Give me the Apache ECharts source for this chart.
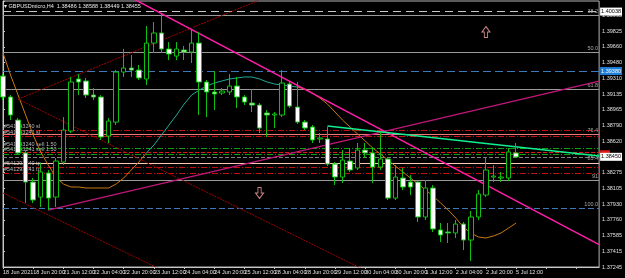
<!DOCTYPE html>
<html><head><meta charset="utf-8">
<script src="https://cdn.jsdelivr.net/npm/echarts@6/dist/echarts.min.js"></script>
<style>html,body{margin:0;padding:0;background:#000;}#c{width:625px;height:278px;}</style>
</head><body><div id="c"></div>
<script>
// ---- data ----
const xLabels = ["18 Jun 2021","18 Jun 20:00","21 Jun 12:00","22 Jun 04:00","22 Jun 20:00","23 Jun 12:00","24 Jun 04:00","24 Jun 20:00","25 Jun 12:00","28 Jun 04:00","28 Jun 20:00","29 Jun 12:00","30 Jun 04:00","30 Jun 20:00","1 Jul 12:00","2 Jul 04:00","2 Jul 20:00","5 Jul 12:00"];
const yTickLabels = ["1.37245","1.37415","1.37585","1.37760","1.37930","1.38105","1.38275","1.38445","1.38620","1.38790","1.38965","1.39135","1.39310","1.39480","1.39660","1.39825","1.39995"];
const yMin = 1.37245, yStep = 0.00172, yMax = 1.40154;
const openP = [1.39333,1.39104,1.38852,1.38492,1.38174,1.38010,1.38273,1.38010,1.38393,1.38732,1.39301,1.39279,1.39126,1.39104,1.38677,1.38830,1.39377,1.39421,1.39399,1.39301,1.39694,1.39804,1.39629,1.39552,1.39618,1.39596,1.39694,1.39268,1.39159,1.39148,1.39159,1.39224,1.39104,1.39038,1.39016,1.38929,1.38907,1.38907,1.39246,1.38994,1.38830,1.38776,1.38645,1.38645,1.38371,1.38229,1.38404,1.38328,1.38524,1.38492,1.38338,1.38426,1.37999,1.38218,1.38174,1.38174,1.37792,1.38109,1.37650,1.37628,1.37617,1.37715,1.37540,1.37792,1.38032,1.38229,1.38218,1.38218,1.38492];
const closeP = [1.39104,1.38907,1.38492,1.38174,1.37978,1.38284,1.37999,1.38404,1.38743,1.39268,1.39268,1.39126,1.39104,1.38667,1.38841,1.39377,1.39421,1.39399,1.39312,1.39694,1.39804,1.39629,1.39574,1.39629,1.39596,1.39694,1.39268,1.39159,1.39137,1.39169,1.39224,1.39104,1.39049,1.39016,1.38765,1.38907,1.38918,1.39257,1.39005,1.38830,1.38765,1.38634,1.38656,1.38371,1.38229,1.38415,1.38306,1.38524,1.38492,1.38338,1.38426,1.37999,1.38229,1.38120,1.38120,1.37792,1.38109,1.37661,1.37595,1.37617,1.37715,1.37540,1.37792,1.38043,1.38306,1.38240,1.38229,1.38503,1.38448];
const lowP = [1.39071,1.38852,1.38470,1.37945,1.37945,1.37901,1.37868,1.37901,1.38360,1.38710,1.39126,1.39093,1.39071,1.38634,1.38601,1.38798,1.39323,1.39323,1.39290,1.39235,1.39585,1.39585,1.39508,1.39508,1.39508,1.39476,1.38907,1.38885,1.38962,1.39126,1.39126,1.38984,1.39016,1.38940,1.38710,1.38667,1.38765,1.38885,1.38984,1.38809,1.38743,1.38601,1.38601,1.38349,1.38142,1.38164,1.38284,1.38306,1.38437,1.38164,1.38306,1.37978,1.37978,1.38087,1.38032,1.37737,1.37759,1.37628,1.37518,1.37507,1.37562,1.37431,1.37311,1.37759,1.38010,1.38174,1.38174,1.38185,1.38437];
const highP = [1.39355,1.39126,1.38874,1.38524,1.38218,1.38382,1.38306,1.38437,1.38885,1.39323,1.39355,1.39312,1.39202,1.39126,1.38874,1.39399,1.39629,1.39563,1.39454,1.39880,1.39924,1.40022,1.39705,1.39705,1.39661,1.39847,1.39815,1.39290,1.39388,1.39202,1.39355,1.39323,1.39126,1.39191,1.39038,1.38962,1.38940,1.39399,1.39268,1.39268,1.38852,1.38798,1.38710,1.38776,1.38393,1.38524,1.38546,1.38601,1.38601,1.38557,1.38721,1.38448,1.38360,1.38328,1.38251,1.38196,1.38196,1.38142,1.37726,1.37726,1.37759,1.37737,1.37857,1.38087,1.38437,1.38360,1.38284,1.38546,1.38601];
const maValues = [1.39585,1.39344,1.39126,1.38907,1.38688,1.38502,1.38360,1.38229,1.38153,1.38120,1.38120,1.38109,1.38109,1.38109,1.38109,1.38153,1.38218,1.38306,1.38393,1.38492,1.38579,1.38688,1.38798,1.38907,1.39027,1.39126,1.39180,1.39224,1.39257,1.39279,1.39301,1.39312,1.39323,1.39323,1.39301,1.39268,1.39246,1.39235,1.39224,1.39213,1.39191,1.39148,1.39093,1.39027,1.38940,1.38852,1.38776,1.38699,1.38623,1.38546,1.38481,1.38415,1.38349,1.38284,1.38218,1.38153,1.38087,1.38021,1.37945,1.37868,1.37781,1.37682,1.37617,1.37573,1.37562,1.37584,1.37617,1.37671,1.37726];
const maRiseStart = 19, maRiseEnd = 39;
const fibLevels = [38.2, 50.0, 61.8, 76.4, 85.4, 91, 100.0];
const fibLabels = ["38.2","50.0","61.8","76.4","85.4","91","100.0"];
const fibZero = 1.41309, fibHundred = 1.37883;
const slPrices = [1.38743, 1.38677];
const entryPrices = [1.38546, 1.38481];
const tpPrices = [1.38338, 1.38273];
const slLabels = ["#541293240 sl", "#541293241 sl"];
const entryLabels = ["#541293240 sell 1.50", "#541293241 sell 1.50"];
const tpLabels = ["#541293240 tp", "#541293241 tp"];
const topDashPrice = 1.40038, topDashLabel = "1.40038";
const blueLinePrice = 1.39388, blueLineLabel = "1.39380";
const bidPrice = 1.38450, bidLabel = "1.38450";
const askPrice = 1.38500;
const peachBoxLabel = "1.38360";
const fibBoxLabel = "1.37883";
const pinkTrend = [[17, 1.40190], [79, 1.37490]];
const violetRay = [[6, 1.37868], [79, 1.39279]];
const redUp = [[2, 1.39080], [34, 1.40164]];
const redDown1 = [[2, 1.39080], [50, 1.37127]];
const redDown2 = [[0, 1.38054], [22, 1.37174]];
const greenTrend = [[43, 1.38787], [79, 1.38459]];
const upArrows = [[64, 1.39815]];
const downArrows = [[34, 1.38054]];
const titleText = "\u25BE GBPUSDmicro,H4  1.38486 1.38588 1.38449 1.38455";

// ---- build ----
const N = 80;
const cats = [];
for (let i = 0; i < N; i++) cats.push((i % 4 === 0 && xLabels[i / 4]) ? xLabels[i / 4] : ' ' + i);
const ohlc = openP.map((o, i) => [o, closeP[i], lowP[i], highP[i]]);
const maFall = maValues.map((v, i) => (i <= maRiseStart || i >= maRiseEnd) ? v : null);
const maRise = maValues.map((v, i) => (i >= maRiseStart && i <= maRiseEnd) ? v : null);
const fibPrice = l => fibHundred + (fibZero - fibHundred) * (1 - l / 100);
const FS = 5.5, FONT = 'Liberation Sans';

const ml = [];
const fibColors = ['#9a9a9a','#9a9a9a','#9a9a9a','#f07878','#ffc8b4','#9a9a9a','#3d78b8'];
fibLevels.forEach((l, i) => {
  ml.push({yAxis: fibPrice(l), lineStyle: {color: fibColors[i], width: 1, type: i === 6 ? [6, 3] : 'solid'},
    label: {show: true, position: 'insideEndTop', formatter: fibLabels[i], color: '#a8a8a8', fontSize: FS, fontFamily: FONT, distance: 1}});
});
ml.push({yAxis: fibPrice(100), lineStyle: {opacity: 0},
  label: {show: true, position: 'end', formatter: fibBoxLabel, color: '#fff', backgroundColor: '#1e7fd8', padding: [1, 1], fontSize: FS, fontFamily: FONT, distance: 1}});
ml.push({yAxis: askPrice, lineStyle: {color: '#e01818', width: 1},
  label: {show: true, position: 'end', formatter: '       ', color: '#fff', backgroundColor: '#e01818', padding: [0, 1], fontSize: FS - 1.5, fontFamily: FONT, distance: 1}});
ml.push({yAxis: fibPrice(85.4), lineStyle: {opacity: 0},
  label: {show: true, position: 'end', formatter: peachBoxLabel, color: '#fff', backgroundColor: '#e8603c', padding: [1, 1], fontSize: FS, fontFamily: FONT, distance: 1}});
ml.push({yAxis: topDashPrice, lineStyle: {color: '#c8c8c8', width: 1, type: [8, 5]},
  label: {show: true, position: 'end', formatter: topDashLabel, color: '#000', backgroundColor: '#fff', padding: [1, 1], fontSize: FS, fontFamily: FONT, distance: 1}});
ml.push({yAxis: blueLinePrice, lineStyle: {color: '#3d78b8', width: 1, type: [8, 4]},
  label: {show: true, position: 'end', formatter: blueLineLabel, color: '#fff', backgroundColor: '#1e7fd8', padding: [1, 1], fontSize: FS, fontFamily: FONT, distance: 1}});
ml.push({yAxis: bidPrice, lineStyle: {color: '#808080', width: 1},
  label: {show: true, position: 'end', formatter: bidLabel, color: '#000', backgroundColor: '#fff', padding: [1, 1], fontSize: FS, fontFamily: FONT, distance: 1}});
const ordLbl = t => ({show: true, position: 'insideStartTop', formatter: t, color: '#b8b8b8', fontSize: FS, fontFamily: FONT, distance: 1});
slPrices.forEach((p, i) => ml.push({yAxis: p, lineStyle: {color: '#c01010', width: 1, type: [6, 2, 1, 2]}, label: ordLbl(slLabels[i])}));
entryPrices.forEach((p, i) => ml.push({yAxis: p, lineStyle: {color: '#10a010', width: 1, type: [6, 2, 1, 2]}, label: ordLbl(entryLabels[i])}));
tpPrices.forEach((p, i) => ml.push({yAxis: p, lineStyle: {color: '#c01010', width: 1, type: [6, 2, 1, 2]}, label: ordLbl(tpLabels[i])}));

const trend = (data, color, width, type) => ({type: 'line', xAxisIndex: 1, data: data, symbol: 'none', silent: true, z: 3,
  lineStyle: {color: color, width: width, type: type || 'solid'}, animation: false});

const chart = echarts.init(document.getElementById('c'));
chart.setOption({
  backgroundColor: '#000',
  animation: false,
  title: {text: titleText, left: 4, top: 3, padding: 0, textStyle: {color: '#e8e8e8', fontSize: FS, fontWeight: 'normal', fontFamily: FONT}},
  grid: {left: 2, right: 21, top: 1, bottom: 11, show: true, borderColor: '#b4b4b4', borderWidth: 1, backgroundColor: '#000'},
  xAxis: [
    {type: 'category', data: cats, boundaryGap: false,
     axisLine: {show: true, lineStyle: {color: '#c8c8c8'}},
     axisTick: {show: true, interval: 3, length: 2, lineStyle: {color: '#c8c8c8'}},
     axisLabel: {interval: 3, align: 'left', color: '#e0e0e0', fontSize: FS, fontFamily: FONT, margin: 2,
       formatter: v => v.charAt(0) === ' ' ? '' : v},
     splitLine: {show: false}},
    {type: 'value', min: 0, max: N - 1, show: false}
  ],
  yAxis: {type: 'value', position: 'right', min: yMin, max: yMax, interval: yStep,
    axisLine: {show: true, lineStyle: {color: '#c8c8c8'}},
    axisTick: {show: true, length: 2, lineStyle: {color: '#c8c8c8'}},
    axisLabel: {color: '#e0e0e0', fontSize: FS, fontFamily: FONT, margin: 3,
      formatter: v => { const k = Math.round((v - yMin) / yStep); return (Math.abs(v - (yMin + k * yStep)) < yStep * 0.05 && yTickLabels[k]) ? yTickLabels[k] : ''; }},
    splitLine: {show: false}},
  series: [
    {type: 'line', xAxisIndex: 0, data: maFall, symbol: 'none', connectNulls: false, z: 3, lineStyle: {color: '#c87a10', width: 1},
     markLine: {symbol: ['none', 'none'], precision: 6, silent: true, animation: false, z: 2, data: ml}},
    trend(redUp, '#a00000', 1, [2, 1]),
    trend(redDown1, '#a00000', 1, [2, 1]),
    trend(redDown2, '#a00000', 1, [2, 1]),
    trend(violetRay, '#c0187a', 1.3),
    trend(pinkTrend, '#ff1ca8', 1.5),
    trend(greenTrend, '#10f090', 1.5),
    {type: 'line', xAxisIndex: 0, data: maRise, symbol: 'none', connectNulls: false, z: 3, lineStyle: {color: '#20a898', width: 1}},
    {type: 'candlestick', xAxisIndex: 0, data: ohlc, barWidth: 5, z: 5,
     itemStyle: {color: '#000', color0: '#fff', borderColor: '#10c010', borderColor0: '#10c010', borderWidth: 1}},
    {type: 'scatter', xAxisIndex: 0, data: upArrows, z: 6, symbol: 'path://M5,0 L10,6 L7,6 L7,12 L3,12 L3,6 L0,6 Z', symbolSize: [8, 11],
     itemStyle: {color: 'rgba(0,0,0,0)', borderColor: '#ffa8a8', borderWidth: 1}},
    {type: 'scatter', xAxisIndex: 0, data: downArrows, z: 6, symbol: 'path://M3,0 L7,0 L7,6 L10,6 L5,12 L0,6 L3,6 Z', symbolSize: [8, 11],
     itemStyle: {color: 'rgba(0,0,0,0)', borderColor: '#ffa8a8', borderWidth: 1}}
  ]
});
</script></body></html>
